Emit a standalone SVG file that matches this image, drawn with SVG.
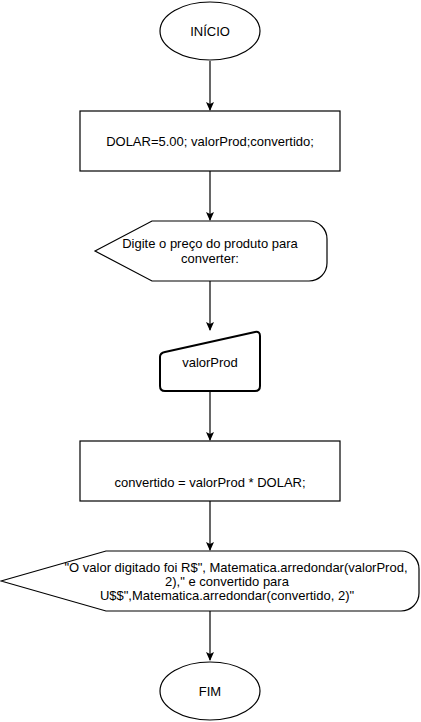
<svg xmlns="http://www.w3.org/2000/svg" width="421" height="722" viewBox="0 0 421 722">
<style>
.s{fill:#fff;stroke:#000;stroke-width:1.2}
.m{fill:#fff;stroke:#000;stroke-width:2;stroke-linejoin:round}
.t{font-family:"Liberation Sans",Arial,sans-serif;font-size:13px;fill:#000;text-anchor:middle}
.c{fill:none;stroke:#000;stroke-width:1.2}
</style>
<defs>
<marker id="a" markerWidth="9" markerHeight="8" refX="8" refY="4" orient="auto" markerUnits="userSpaceOnUse">
<path d="M0,0 L9,4 L0,8 L2,4 Z" fill="#000"/>
</marker>
</defs>
<g id="connectors">
<line class="c" x1="210" y1="61" x2="210" y2="110" marker-end="url(#a)"/>
<line class="c" x1="210" y1="171" x2="210" y2="220" marker-end="url(#a)"/>
<line class="c" x1="210" y1="281" x2="210" y2="330" marker-end="url(#a)"/>
<line class="c" x1="210" y1="391" x2="210" y2="440" marker-end="url(#a)"/>
<line class="c" x1="210" y1="501" x2="210" y2="550" marker-end="url(#a)"/>
<line class="c" x1="210" y1="611" x2="210" y2="660" marker-end="url(#a)"/>
</g>
<g id="inicio">
<ellipse class="s" cx="210" cy="31" rx="50" ry="29"/>
<text class="t" x="210" y="36">INÍCIO</text>
</g>
<g id="declaracao">
<rect class="s" x="80" y="111" width="260" height="60"/>
<text class="t" x="210" y="146">DOLAR=5.00; valorProd;convertido;</text>
</g>
<g id="mensagem">
<path class="s" d="M95,251 L152,221 L309,221 C319,221 327,229 327,239 L327,263 C327,273 319,281 309,281 L152,281 Z"/>
<text class="t" x="210" y="248">Digite o preço do produto para</text>
<text class="t" x="210" y="263">converter:</text>
</g>
<g id="entrada">
<path class="m" d="M165,352 L255,332 Q260,331 260,336 L260,386 Q260,391 255,391 L165,391 Q160,391 160,386 L160,357 Q160,353 165,352 Z"/>
<text class="t" x="210" y="367">valorProd</text>
</g>
<g id="calculo">
<rect class="s" x="80" y="441" width="260" height="60"/>
<text class="t" x="210" y="487">convertido = valorProd * DOLAR;</text>
</g>
<g id="saida">
<path class="s" d="M1,581 L106,551 L401,551 C411,551 419,559 419,569 L419,593 C419,603 411,611 401,611 L106,611 Z"/>
<text class="t" x="236" y="572">"O valor digitado foi R$", Matematica.arredondar(valorProd,</text>
<text class="t" x="227" y="586">2)," e convertido para</text>
<text class="t" x="227" y="600">U$$",Matematica.arredondar(convertido, 2)"</text>
</g>
<g id="fim">
<ellipse class="s" cx="210" cy="691" rx="50" ry="29"/>
<text class="t" x="210" y="696">FIM</text>
</g>
</svg>
